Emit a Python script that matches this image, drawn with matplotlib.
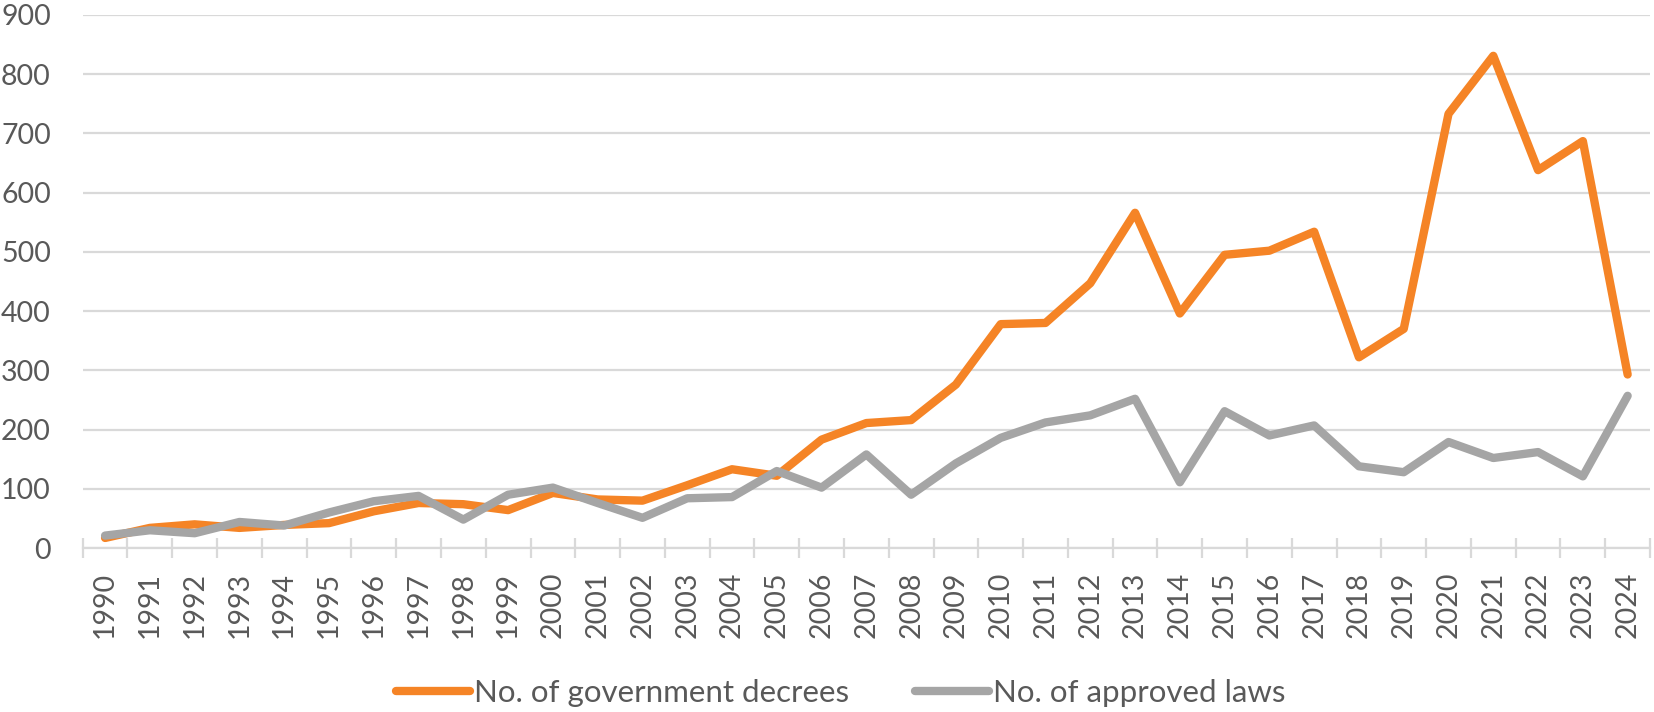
import matplotlib.pyplot as plt
from matplotlib.ticker import MultipleLocator

years = list(range(1990, 2025))

# No. of government decrees
decrees = [17, 34, 40, 34, 39, 42, 62, 76, 74, 64, 93, 82, 80, 106, 133,
           122, 183, 211, 216, 276, 378, 380, 447, 566, 396, 495, 502, 534,
           322, 370, 733, 831, 638, 687, 293]

# No. of approved laws
laws = [21, 30, 25, 44, 38, 60, 79, 88, 48, 90, 102, 76, 51, 84, 86,
        130, 102, 158, 90, 143, 186, 212, 224, 252, 111, 231, 190, 207,
        138, 128, 179, 152, 162, 121, 257]

labels = ["No. of government decrees", "No. of approved laws"]

plt.rcParams['font.family'] = ['Lato', 'DejaVu Sans']
text_color = '#595959'
grid_color = '#d9d9d9'

fig = plt.figure(figsize=(16.54, 7.12), dpi=100)
ax = fig.add_axes([0.050, 0.2303, 0.9476, 0.7487])

x = list(range(len(years)))
ax.plot(x, decrees, color='#F58426', lw=6, solid_capstyle='round',
        solid_joinstyle='round', label=labels[0], zorder=3)
ax.plot(x, laws, color='#A5A5A5', lw=6, solid_capstyle='round',
        solid_joinstyle='round', label=labels[1], zorder=3)

ax.set_xlim(-0.5, len(years) - 0.5)
ax.set_ylim(0, 900)
ax.yaxis.set_major_locator(MultipleLocator(100))
ax.grid(axis='y', color=grid_color, lw=1.6, zorder=0)
ax.set_axisbelow(True)

for s in ['top', 'right', 'left']:
    ax.spines[s].set_visible(False)
ax.spines['bottom'].set_color(grid_color)
ax.spines['bottom'].set_linewidth(1.6)
ax.spines['bottom'].set_zorder(1)

ax.set_xticks(x)
ax.set_xticklabels([str(y) for y in years], rotation=90, va='top')
ax.set_xticks([i - 0.5 for i in range(len(years) + 1)], minor=True)
ax.tick_params(axis='x', which='major', length=0, pad=17,
               labelsize=20.5, labelcolor=text_color)
ax.tick_params(axis='x', which='minor', direction='inout', length=15,
               width=1.6, color=grid_color)
ax.tick_params(axis='y', length=0, pad=23, labelsize=20.5,
               labelcolor=text_color)

leg = fig.legend(loc='center', bbox_to_anchor=(841 / 1654, 0.027), ncol=2,
                 frameon=False, fontsize=22.5, handlelength=2.37,
                 handletextpad=0.13, columnspacing=2.1)
for t in leg.get_texts():
    t.set_color(text_color)

fig.savefig('out.png', dpi=100)
